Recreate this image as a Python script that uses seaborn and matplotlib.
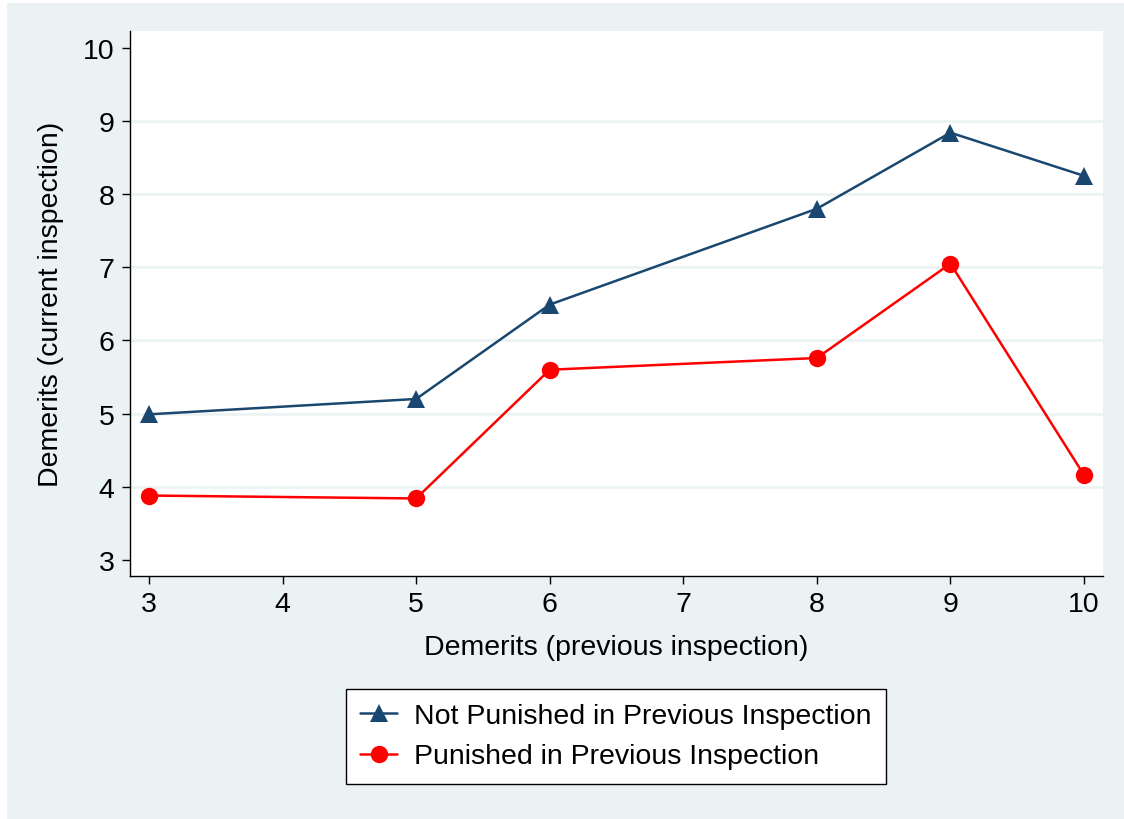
import numpy as np
import pandas as pd
import matplotlib
matplotlib.use('Agg')
import matplotlib.pyplot as plt
import seaborn as sns
from matplotlib.patches import Rectangle

# data
prev_demerits = [3, 5, 6, 8, 9, 10]
not_punished = [4.99, 5.20, 6.49, 7.80, 8.84, 8.25]
punished = [3.88, 3.84, 5.60, 5.76, 7.05, 4.16]
group_names = ['Not Punished in Previous Inspection', 'Punished in Previous Inspection']
x_ticks = [3, 4, 5, 6, 7, 8, 9, 10]
y_ticks = [3, 4, 5, 6, 7, 8, 9, 10]

df = pd.DataFrame({
    'prev': prev_demerits * 2,
    'curr': not_punished + punished,
    'group': [group_names[0]] * len(prev_demerits) + [group_names[1]] * len(prev_demerits),
})

sns.set_style('white')
plt.rcParams['font.family'] = ['Liberation Sans', 'DejaVu Sans']
plt.rcParams['text.color'] = 'black'
plt.rcParams['axes.labelcolor'] = 'black'
plt.rcParams['xtick.color'] = 'black'
plt.rcParams['ytick.color'] = 'black'

bg = '#EAF2F3'
fig = plt.figure(figsize=(11.24, 8.2), dpi=100, facecolor='white')
# stata-like outer background, inset a few pixels from top/left
fig.patches.append(Rectangle((7 / 1124, 0), 1 - 7 / 1124, 1 - 4 / 820,
                             transform=fig.transFigure, facecolor=bg,
                             edgecolor='none', zorder=-10))
ax = fig.add_axes([130 / 1124, 1 - 577 / 820, (1103 - 130) / 1124, (577 - 32) / 820])
ax.set_facecolor('white')

pal = {group_names[0]: '#1A476F', group_names[1]: '#FF0000'}
mk = {group_names[0]: '^', group_names[1]: 'o'}
sns.lineplot(data=df, x='prev', y='curr', hue='group', style='group',
             palette=pal, markers=mk, dashes=False, linewidth=1.8,
             markersize=12.5, markeredgewidth=0, ax=ax, zorder=3)

ax.set_xlim(2.858, 10.142)
ax.set_ylim(2.78, 10.23)
ax.set_xticks(x_ticks)
ax.set_yticks(y_ticks)
for v in y_ticks[1:-1]:
    ax.axhline(v, color=bg, linewidth=1.8, zorder=1)

for s in ['top', 'right']:
    ax.spines[s].set_visible(False)
for s in ['left', 'bottom']:
    ax.spines[s].set_color('black')
    ax.spines[s].set_linewidth(1.0)
ax.tick_params(axis='both', which='major', direction='out', length=6, width=1,
               color='black', labelcolor='black', labelsize=20.5, pad=5,
               left=True, bottom=True)

ax.set_xlabel('Demerits (previous inspection)', fontsize=20.5, labelpad=12)
ax.set_ylabel('Demerits (current inspection)', fontsize=20.5, labelpad=14)

ax.get_legend().remove()
h, l = ax.get_legend_handles_labels()
leg = fig.legend(h, l, loc='upper center', bbox_to_anchor=(616 / 1124, 1 - 690 / 820),
                 bbox_transform=fig.transFigure, fontsize=20.5, frameon=True,
                 fancybox=False, edgecolor='black', framealpha=1,
                 handlelength=1.3, handletextpad=0.6, borderpad=0.5,
                 labelspacing=0.5, borderaxespad=0)
leg.get_frame().set_linewidth(1.0)

fig.savefig('out.png', dpi=100, facecolor='white')
